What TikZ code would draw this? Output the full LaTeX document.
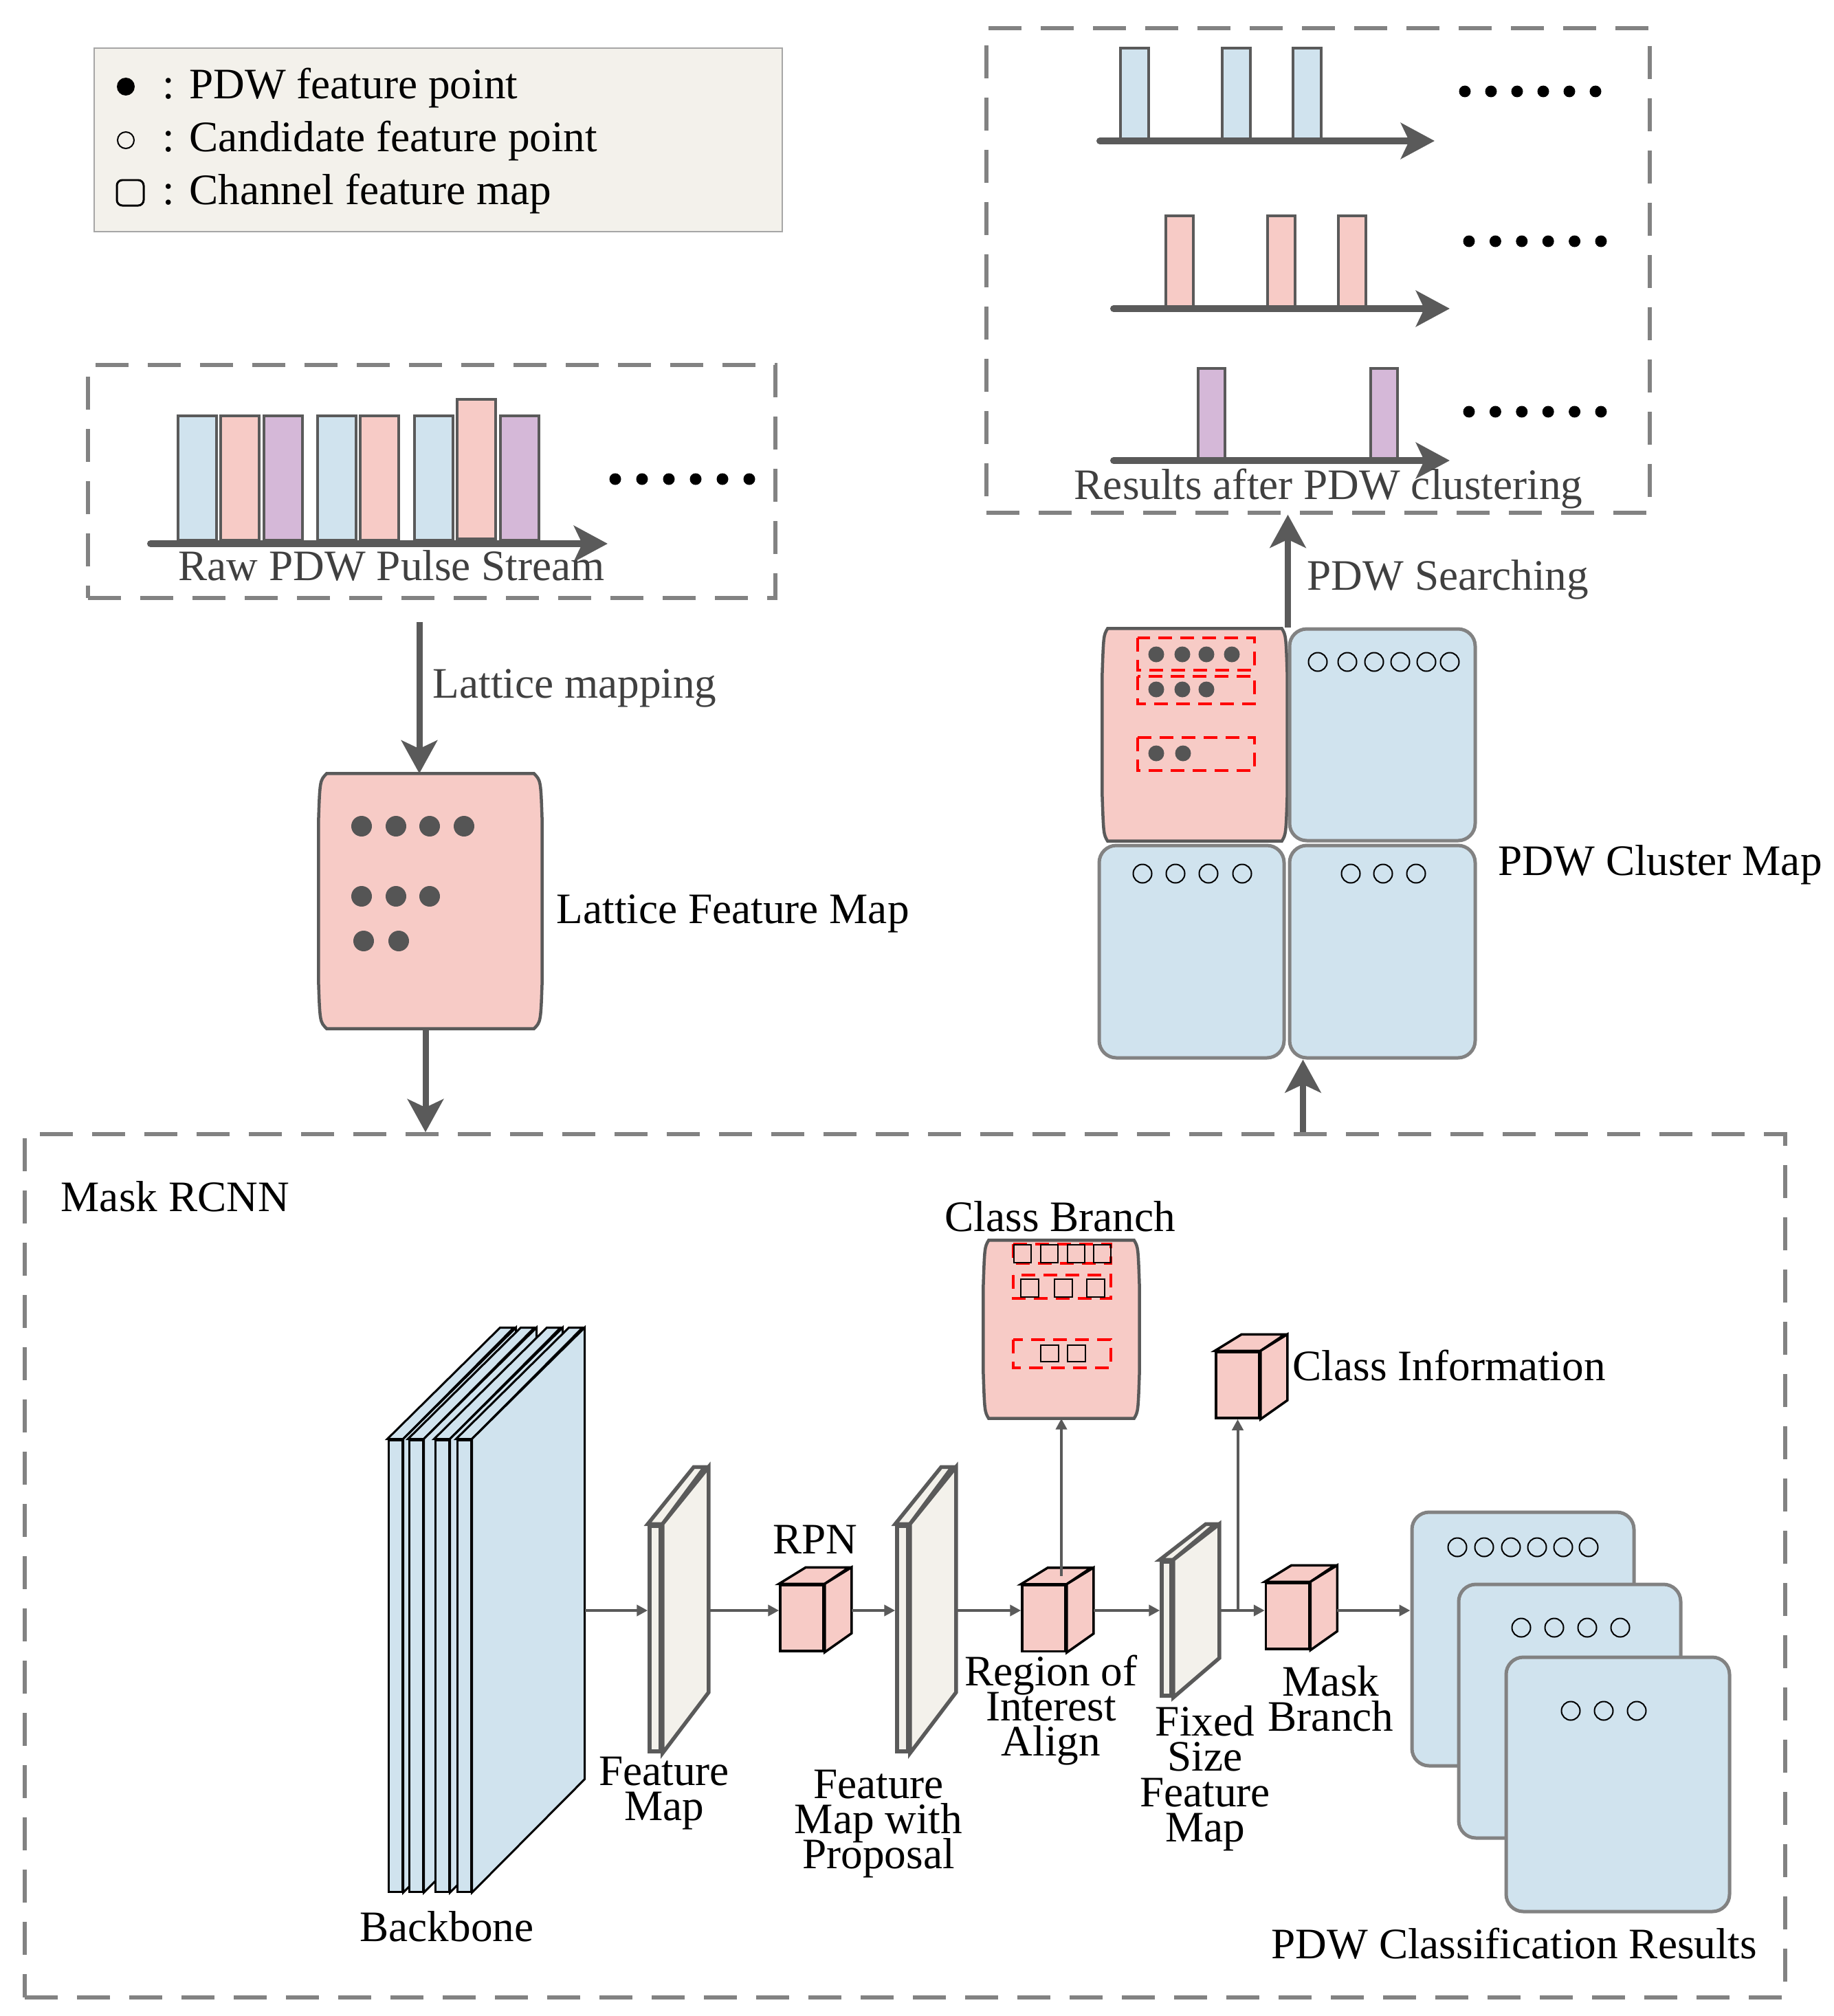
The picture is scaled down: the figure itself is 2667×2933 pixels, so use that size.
\documentclass[tikz,border=0pt]{standalone}
\usepackage{fontspec}
\setmainfont{Liberation Serif}
\usepackage{tikz}
\usetikzlibrary{arrows.meta}

\definecolor{pinkfill}{HTML}{F7CBC6}
\definecolor{bluefill}{HTML}{D0E3EE}
\definecolor{purplefill}{HTML}{D5B8D8}
\definecolor{beigefill}{HTML}{F3F1EB}
\definecolor{linegray}{HTML}{5A5A5A}
\definecolor{dashgray}{HTML}{828282}
\definecolor{textgray}{HTML}{404040}
\definecolor{dotgray}{HTML}{555555}

\tikzset{
  every node/.style={font={\fontsize{18}{14.6}\selectfont\lineskiplimit=-30pt}, inner sep=0pt},
  dashbox/.style={draw=dashgray, line width=0.55mm, dash pattern=on 4.8mm off 2.8mm},
  bigarrow/.style={draw=linegray, line width=0.9mm, -{Stealth[length=4.8mm,width=5.2mm,inset=1.2mm]}},
  axisarrow/.style={draw=linegray, line width=1mm, line cap=round, -{Stealth[length=4.9mm,width=5.2mm,inset=1.2mm]}},
  smallarrow/.style={draw=linegray, line width=0.4mm, -{Triangle[length=1.6mm,width=1.6mm]}},
  pulse/.style={draw=linegray, line width=0.45mm},
  pinkmap/.style={draw=linegray, fill=pinkfill, line width=0.45mm},
  bluemap/.style={draw=dashgray, fill=bluefill, line width=0.5mm, rounded corners=2.5mm},
  redbox/.style={draw=red, line width=0.4mm, dash pattern=on 2mm off 1.2mm},
  slab/.style={draw=black, fill=bluefill, line width=0.3mm},
  fmap/.style={draw=linegray, fill=beigefill, line width=0.55mm},
  cube/.style={draw=black, fill=pinkfill, line width=0.35mm},
  graylabel/.style={text=textgray},
  opendot/.style={draw=black, line width=0.2mm},
  chanbox/.style={draw=black, line width=0.2mm}
}

% barrel outline round a placeholder node: #1 node, #2 corner inset
\newcommand\barrel[2]{%
  \filldraw[pinkmap] ([xshift=#2]#1.north west) -- ([xshift=-#2]#1.north east)
    .. controls ([xshift=-0.2mm,yshift=-1mm]#1.north east) .. ([yshift=-7mm]#1.north east)
    -- ([yshift=7mm]#1.south east)
    .. controls ([xshift=-0.2mm,yshift=1mm]#1.south east) .. ([xshift=-#2]#1.south east)
    -- ([xshift=#2]#1.south west)
    .. controls ([xshift=0.2mm,yshift=1mm]#1.south west) .. ([yshift=7mm]#1.south west)
    -- ([yshift=-7mm]#1.north west)
    .. controls ([xshift=0.2mm,yshift=-1mm]#1.north west) .. ([xshift=#2]#1.north west) -- cycle;}

\begin{document}
\begin{tikzpicture}[x=0.1mm, y=-0.1mm]
	\useasboundingbox (0,0) rectangle (2667,2933);

	% legend
	\node[draw=gray!70, fill=beigefill, line width=0.2mm, minimum width=100.1mm, minimum height=26.7mm] (legend) at (637.5,203.5) {};
	\fill (183,126) circle[radius=13];
	\draw[opendot] (183,204) circle[radius=12];
	\draw[line width=0.3mm, rounded corners=0.8mm] (170,262) rectangle (209,299);
	\node[anchor=base west] (lgfull) at (236,144) {: PDW feature point};
	\node[anchor=base west] (lgcand) at (236,221) {: Candidate feature point};
	\node[anchor=base west] (lgchan) at (236,298) {: Channel feature map};

	% raw pulse stream
	\node[dashbox, minimum width=100mm, minimum height=33.9mm] (raw) at (628,700.5) {};
	\foreach \x/\c in {259/bluefill,321/pinkfill,384/purplefill,462/bluefill,524/pinkfill,603/bluefill,728/purplefill}
		\filldraw[pulse, fill=\c] (\x,605) rectangle ++(56,181);
	\filldraw[pulse, fill=pinkfill] (665,581) rectangle ++(56,203);
	\draw[axisarrow] (219,791) -- (884,791);
	\foreach \i in {0,...,5} \fill (895+39*\i,697) circle[radius=8.5];
	\node[graylabel, anchor=base west] (rawlabel) at (259,844) {Raw PDW Pulse Stream};

	% results after clustering
	\node[dashbox, minimum width=96.5mm, minimum height=70.5mm] (results) at (1917.5,393.5) {};
	\foreach \x in {1630,1778,1881} \filldraw[pulse, fill=bluefill] (\x,70) rectangle ++(41,133);
	\foreach \x in {1696,1844,1947} \filldraw[pulse, fill=pinkfill] (\x,314) rectangle ++(40,133);
	\foreach \x in {1743,1994} \filldraw[pulse, fill=purplefill] (\x,536) rectangle ++(39,132);
	\draw[axisarrow] (1600,205) -- (2087,205);
	\draw[axisarrow] (1620,449) -- (2109,449);
	\draw[axisarrow] (1620,670) -- (2109,670);
	\foreach \i in {0,...,5} {
		\fill (2131+38*\i,133) circle[radius=8.5];
		\fill (2137+38.4*\i,351) circle[radius=8.5];
		\fill (2137+38.4*\i,599) circle[radius=8.5];
	}
	\node[graylabel, anchor=base west] (reslabel) at (1562,726) {Results after PDW clustering};

	% lattice feature map
	\node[minimum width=32.4mm, minimum height=37mm] (lattice) at (626,1311) {};
	\barrel{lattice}{1.2mm}
	\foreach \x in {526,576,625,675} \fill[dotgray] (\x,1202) circle[radius=15];
	\foreach \x in {526,576,625} \fill[dotgray] (\x,1304) circle[radius=15];
	\foreach \x in {529,580} \fill[dotgray] (\x,1369) circle[radius=15];
	\node[anchor=base west] (latlabel) at (809,1343) {Lattice Feature Map};
	\draw[bigarrow] ([xshift=-1.6mm, yshift=-3.2mm]raw.south -| lattice.north) -- ([xshift=-1.6mm]lattice.north);
	\node[graylabel, anchor=base west] (maplabel) at (629,1015) {Lattice mapping};

	% PDW cluster map
	\node[minimum width=26.8mm, minimum height=30.8mm] (cltl) at (1738,1069) {};
	\barrel{cltl}{0.8mm}
	\node[bluemap, minimum width=27mm, minimum height=30.8mm] (cltr) at (2011,1069) {};
	\node[bluemap, minimum width=26.9mm, minimum height=30.9mm] (clbl) at (1733.5,1384.5) {};
	\node[bluemap, minimum width=27mm, minimum height=30.9mm] (clbr) at (2011,1384.5) {};
	\draw[redbox] (1655,928) rectangle (1825,975);
	\draw[redbox] (1655,984) rectangle (1825,1024);
	\draw[redbox] (1655,1073) rectangle (1825,1121);
	\foreach \x in {1682,1720,1755,1792} \fill[dotgray] (\x,952) circle[radius=11.5];
	\foreach \x in {1682,1720,1755} \fill[dotgray] (\x,1003) circle[radius=11.5];
	\foreach \x in {1682,1721} \fill[dotgray] (\x,1096) circle[radius=11.5];
	\foreach \x in {1917,1960,1999,2037,2075,2109} \draw[opendot] (\x,963) circle[radius=13.5];
	\foreach \x in {1662,1710,1758,1807} \draw[opendot] (\x,1271) circle[radius=13.5];
	\foreach \x in {1965,2012,2060} \draw[opendot] (\x,1271) circle[radius=13.5];
	\node[anchor=base west] (cllabel) at (2179,1273) {PDW Cluster Map};
	\draw[bigarrow] (cltr.north west) -- (cltr.north west |- results.south);
	\node[graylabel, anchor=base west] (searchlabel) at (1901,858) {PDW Searching};

	% Mask RCNN
	\node[dashbox, minimum width=256.1mm, minimum height=125.6mm] (mask) at (1316.5,2278) {};
	\node[anchor=base west] (masklabel) at (88,1762) {Mask RCNN};
	\draw[bigarrow] ([xshift=-0.7mm]lattice.south) -- ([xshift=-0.7mm]lattice.south |- mask.north);
	\draw[bigarrow] ([xshift=2.2mm]clbr.south west |- mask.north) -- ([xshift=2.2mm]clbr.south west);
	\coordinate (row) at (0,2343);

	% backbone
	\foreach \n/\x in {1/565,2/595,3/633,4/665} {
		\node[slab, minimum width=2mm, minimum height=65.7mm] (bb\n) at (\x+10,2423.5) {};
		\filldraw[slab] (bb\n.north west) -- ++(164,-162) -- ++(20,0) -- (bb\n.north east) -- cycle;
		\filldraw[slab] (bb\n.north east) -- ++(164,-162) -- ++(0,657) -- (bb\n.south east) -- cycle;
	}
	\node[anchor=base] (bblabel) at (650,2824) {Backbone};

	% feature maps
	\node[fmap, minimum width=1.6mm, minimum height=32.8mm] (fm1) at (953,2384) {};
	\filldraw[fmap] (fm1.north west) -- ++(67,-83) -- ++(16,0) -- (fm1.north east) -- cycle;
	\filldraw[fmap] (fm1.north east) -- ++(67,-83) -- ++(0,328) -- (fm1.south east) -- cycle;
	\node[anchor=north, align=center] (fm1label) at (966,2555) {Feature\\Map};

	\node[fmap, minimum width=1.6mm, minimum height=32.8mm] (fm2) at (1313,2384) {};
	\filldraw[fmap] (fm2.north west) -- ++(67,-83) -- ++(16,0) -- (fm2.north east) -- cycle;
	\filldraw[fmap] (fm2.north east) -- ++(67,-83) -- ++(0,328) -- (fm2.south east) -- cycle;
	\node[anchor=north, align=center] (fm2label) at (1278,2574) {Feature\\Map with\\Proposal};

	\node[fmap, minimum width=1.4mm, minimum height=19.5mm] (fsfm) at (1697,2369.5) {};
	\filldraw[fmap] (fsfm.north west) -- ++(67,-52) -- ++(14,0) -- (fsfm.north east) -- cycle;
	\filldraw[fmap] (fsfm.north east) -- ++(67,-52) -- ++(0,195) -- (fsfm.south east) -- cycle;
	\node[anchor=north, align=center] (fsfmlabel) at (1753,2481) {Fixed\\Size\\Feature\\Map};

	% cubes
	\foreach \name/\cx/\cy in {rpn/1166.5/2354, roi/1518.5/2354.5, clsinfo/1800.5/2015, maskb/1873/2351} {
		\node[cube, minimum width=6.3mm, minimum height=9.6mm] (\name) at (\cx,\cy) {};
		\filldraw[cube] (\name.north west) -- ++(39,-24) -- ++(63,0) -- (\name.north east) -- cycle;
		\filldraw[cube] (\name.north east) -- ++(39,-24) -- ++(0,96) -- (\name.south east) -- cycle;
	}
	\node[anchor=base] (rpnlabel) at (1186,2260) {RPN};
	\node[anchor=north, align=center] (roilabel) at (1529,2407) {Region of\\Interest\\Align};
	\node[anchor=base west] (clsinfolabel) at (1880,2008) {Class Information};
	\node[anchor=north, align=center] (maskblabel) at (1936,2423) {Mask\\Branch};

	% class branch
	\node[minimum width=22.6mm, minimum height=25.8mm] (cb) at (1544,1934) {};
	\barrel{cb}{0.8mm}
	\node[anchor=base west] (cblabel) at (1374,1791) {Class Branch};
	\draw[redbox] (1474,1810) rectangle (1616,1838);
	\draw[redbox] (1474,1855) rectangle (1616,1889);
	\draw[redbox] (1474,1949) rectangle (1616,1990);
	\foreach \x in {1475,1514,1553,1591} \draw[chanbox] (\x,1811) rectangle ++(25,26);
	\foreach \x in {1485,1534,1581} \draw[chanbox] (\x,1861) rectangle ++(26,26);
	\foreach \x in {1514,1553} \draw[chanbox] (\x,1957) rectangle ++(26,24);

	% classification results
	\node[bluemap, minimum width=32.3mm, minimum height=36.9mm] (c1) at (2215.5,2384.5) {};
	\node[bluemap, minimum width=32.3mm, minimum height=36.9mm] (c2) at (2283.5,2489.5) {};
	\node[bluemap, minimum width=32.5mm, minimum height=37mm] (c3) at (2353.5,2596) {};
	\foreach \x in {2120,2159,2198,2236,2274,2311} \draw[opendot] (\x,2251) circle[radius=13.5];
	\foreach \x in {2213,2261,2309,2357} \draw[opendot] (\x,2368) circle[radius=13.5];
	\foreach \x in {2285,2333,2381} \draw[opendot] (\x,2489) circle[radius=13.5];
	\node[anchor=base west] (c3label) at (1849,2849) {PDW Classification Results};

	% connectors inside Mask RCNN
	\draw[smallarrow] ([xshift=16.4mm]bb4.east |- row) -- (fm1.west |- row);
	\draw[smallarrow] ([xshift=6.7mm]fm1.east |- row) -- (rpn.west |- row);
	\draw[smallarrow] ([xshift=3.9mm]rpn.east |- row) -- (fm2.west |- row);
	\draw[smallarrow] ([xshift=6.7mm]fm2.east |- row) -- (roi.west |- row);
	\draw[smallarrow] ([xshift=3.9mm]roi.east |- row) -- (fsfm.west |- row);
	\draw[smallarrow] ([xshift=6.7mm]fsfm.east |- row) -- (maskb.west |- row);
	\draw[smallarrow] (clsinfo.south |- row) -- (clsinfo.south);
	\draw[smallarrow] ([xshift=3.9mm]maskb.east |- row) -- (c1.west |- row);
	\draw[smallarrow] ([yshift=1.2mm]roi.north -| cb.south) -- (cb.south);
\end{tikzpicture}
\end{document}
